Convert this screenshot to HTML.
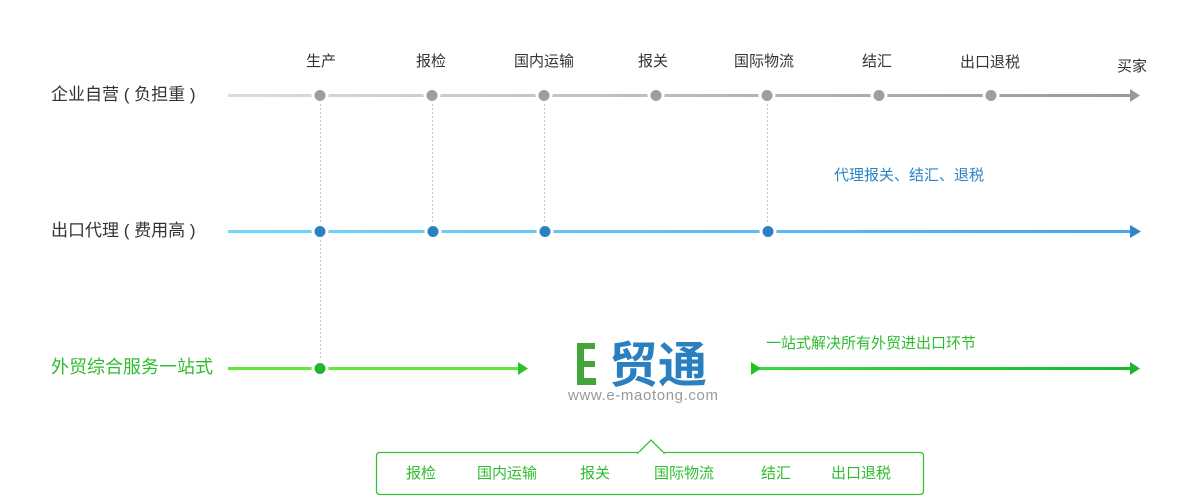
<!DOCTYPE html>
<html><head><meta charset="utf-8"><style>
html,body{margin:0;padding:0;background:#fff;}
svg{display:block;}
text{font-family:"Liberation Sans","Noto Sans CJK SC",sans-serif;}
</style></head><body>
<svg width="1200" height="500" viewBox="0 0 1200 500" xmlns="http://www.w3.org/2000/svg">
<defs>
<linearGradient id="g1" x1="0" x2="1"><stop offset="0" stop-color="#dcdcdc"/><stop offset="1" stop-color="#999"/></linearGradient>
<linearGradient id="g2" x1="0" x2="1"><stop offset="0" stop-color="#6fd9fb"/><stop offset="1" stop-color="#4aa6e8"/></linearGradient>
<linearGradient id="g3" x1="0" x2="1"><stop offset="0" stop-color="#3fd83f"/><stop offset="1" stop-color="#1cb52c"/></linearGradient>
</defs>
<g stroke="#c8c8c8" stroke-width="1" stroke-dasharray="2,2">
<line x1="320.5" y1="100" x2="320.5" y2="364"/>
<line x1="432.5" y1="100" x2="432.5" y2="226"/>
<line x1="544.5" y1="100" x2="544.5" y2="226"/>
<line x1="767.5" y1="100" x2="767.5" y2="226"/>
</g>
<rect x="228" y="94" width="902" height="3" fill="url(#g1)"/>
<polygon points="1130,89 1140,95.5 1130,102" fill="#999"/>
<g fill="#9e9e9e" stroke="#fff" stroke-width="3">
<circle cx="320" cy="95.5" r="7"/><circle cx="432" cy="95.5" r="7"/><circle cx="544" cy="95.5" r="7"/><circle cx="656" cy="95.5" r="7"/><circle cx="767" cy="95.5" r="7"/><circle cx="879" cy="95.5" r="7"/><circle cx="991" cy="95.5" r="7"/>
</g>
<g font-size="15" fill="#333" text-anchor="middle">
<text x="321" y="66">生产</text><text x="431" y="66">报检</text><text x="544" y="66">国内运输</text><text x="653" y="66">报关</text><text x="764" y="66">国际物流</text><text x="877" y="66">结汇</text><text x="990" y="67">出口退税</text><text x="1132" y="71">买家</text>
</g>
<text x="51" y="100" font-size="17" fill="#333" xml:space="preserve">企业自营 ( 负担重 )</text>
<rect x="228" y="230" width="902" height="3" fill="url(#g2)"/>
<polygon points="1130,225 1141,231.5 1130,238" fill="#2d86c8"/>
<g fill="#2a80c0" stroke="#fff" stroke-width="3">
<circle cx="320" cy="231.5" r="7"/><circle cx="433" cy="231.5" r="7"/><circle cx="545" cy="231.5" r="7"/><circle cx="768" cy="231.5" r="7"/>
</g>
<text x="51" y="236" font-size="17" fill="#333" xml:space="preserve">出口代理 ( 费用高 )</text>
<text x="834" y="180" font-size="15" fill="#2b85c4">代理报关、结汇、退税</text>
<rect x="228" y="367" width="291" height="3" fill="#5fe83c"/>
<polygon points="518,362 528,368.5 518,375" fill="#2bc12b"/>
<circle cx="320" cy="368.5" r="7" fill="#1fb52f" stroke="#fff" stroke-width="3"/>
<text x="51" y="373" font-size="18" fill="#2ebd2e">外贸综合服务一站式</text>
<rect x="756" y="367" width="376" height="3" fill="url(#g3)"/>
<polygon points="751,362 761,368.5 751,375" fill="#22c022"/>
<polygon points="1130,362 1140,368.5 1130,375" fill="#1cb52c"/>
<text x="766" y="348" font-size="15" fill="#2ebd2e">一站式解决所有外贸进出口环节</text>
<path d="M577 343 h18 v6 h-11 v12 h11 v6 h-11 v11 h12 v7 h-19 z" fill="#43a63a"/>
<text x="609" y="382" font-size="49" font-weight="bold" fill="#2a7fc0" style="font-family:'Noto Sans CJK SC',sans-serif">贸通</text>
<text x="568" y="400" font-size="15" fill="#999" textLength="150">www.e-maotong.com</text>
<rect x="376.5" y="452.5" width="547" height="42" rx="3" fill="#fff" stroke="#37c037" stroke-width="1.3"/>
<polygon points="638,453 651,440 664,453" fill="#fff" stroke="#37c037" stroke-width="1.3"/>
<rect x="639" y="452" width="24" height="2" fill="#fff"/>
<g font-size="15" fill="#2ebd2e" text-anchor="middle">
<text x="421" y="478">报检</text><text x="507" y="478">国内运输</text><text x="595" y="478">报关</text><text x="684" y="478">国际物流</text><text x="776" y="478">结汇</text><text x="861" y="478">出口退税</text>
</g>
</svg>
</body></html>
